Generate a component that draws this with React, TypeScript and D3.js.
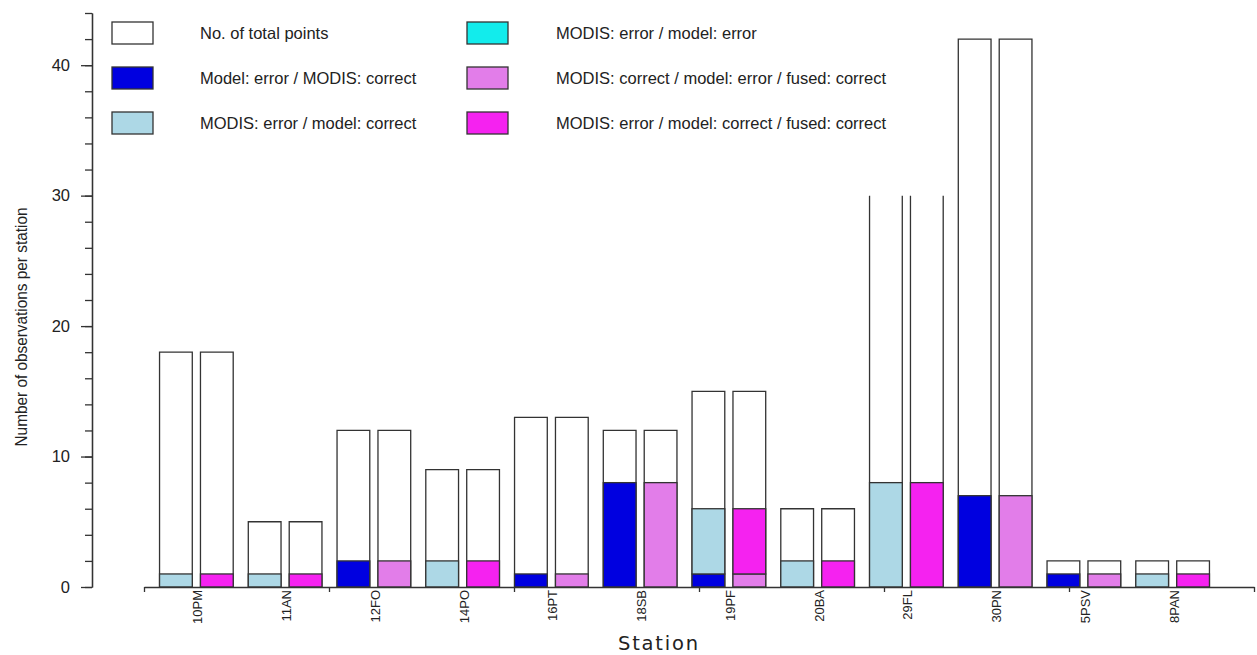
import React, { useRef, useEffect } from 'react';
import * as d3 from 'd3';

const stations = ['10PM', '11AN', '12FO', '14PO', '16PT', '18SB', '19PF', '20BA', '29FL', '30PN', '5PSV', '8PAN'];
const totalPoints = [18, 5, 12, 9, 13, 12, 15, 6, 30, 42, 2, 2];
// left bar of each pair
const modelErrModisCorrect = [0, 0, 2, 0, 1, 8, 1, 0, 0, 7, 1, 0];
const modisErrModelCorrect = [1, 1, 0, 2, 0, 0, 5, 2, 8, 0, 0, 1];
const modisErrModelErr = [0, 0, 0, 0, 0, 0, 0, 0, 0, 0, 0, 0];
// right bar of each pair
const fusedModisCorrect = [0, 0, 2, 0, 1, 8, 1, 0, 0, 7, 1, 0];
const fusedModisErr = [1, 1, 0, 2, 0, 0, 5, 2, 8, 0, 0, 1];
// the 29FL pair is drawn without a top edge in the original
const openTop = ['29FL'];

const yMajorTicks = [0, 10, 20, 30, 40];

const legendItems = [
  { label: 'No. of total points', color: '#ffffff' },
  { label: 'Model: error / MODIS: correct', color: '#0000e0' },
  { label: 'MODIS: error / model: correct', color: '#add8e6' },
  { label: 'MODIS: error / model: error', color: '#12ecec' },
  { label: 'MODIS: correct / model: error / fused: correct', color: '#e27de9' },
  { label: 'MODIS: error / model: correct / fused: correct', color: '#f522f0' },
];

const W = 1257;
const H = 655;
const STROKE = '#333';
const FONT = '"Liberation Sans", Arial, sans-serif';

export default function App() {
  const svgRef = useRef<SVGSVGElement>(null);

  useEffect(() => {
    if (!svgRef.current) return;
    const svg = d3.select(svgRef.current);
    svg.selectAll('*').remove();

    const y = d3.scaleLinear().domain([0, 44]).range([587, 13]);
    const x = d3.scaleBand<string>().domain(stations).range([152, 1217]).paddingInner(0.17).paddingOuter(0.085);
    const sub = d3.scaleBand<string>().domain(['left', 'right']).range([0, x.bandwidth()]).paddingInner(0.2);
    const axisX = d3.scaleLinear().domain([0, 30]).range([144, 1254]);

    // bars
    const g = svg.append('g');
    stations.forEach((s, i) => {
      const x0 = x(s) as number;
      const groups: { side: string; segs: { v: number; c: string }[] }[] = [
        {
          side: 'left',
          segs: [
            { v: modelErrModisCorrect[i], c: legendItems[1].color },
            { v: modisErrModelCorrect[i], c: legendItems[2].color },
            { v: modisErrModelErr[i], c: legendItems[3].color },
          ],
        },
        {
          side: 'right',
          segs: [
            { v: fusedModisCorrect[i], c: legendItems[4].color },
            { v: fusedModisErr[i], c: legendItems[5].color },
          ],
        },
      ];
      groups.forEach((grp) => {
        const bx = x0 + (sub(grp.side) as number);
        const bw = sub.bandwidth();
        g.append('rect')
          .attr('x', bx).attr('y', y(totalPoints[i]))
          .attr('width', bw).attr('height', y(0) - y(totalPoints[i]))
          .attr('fill', '#fff');
        const top = y(totalPoints[i]);
        const d = openTop.includes(s)
          ? `M${bx},${y(0)}V${top}M${bx + bw},${top}V${y(0)}`
          : `M${bx},${y(0)}V${top}H${bx + bw}V${y(0)}`;
        g.append('path').attr('d', d).attr('fill', 'none').attr('stroke', STROKE).attr('stroke-width', 1.3);
        let acc = 0;
        grp.segs.forEach((seg) => {
          if (seg.v <= 0) return;
          g.append('rect')
            .attr('x', bx).attr('y', y(acc + seg.v))
            .attr('width', bw).attr('height', y(acc) - y(acc + seg.v))
            .attr('fill', seg.c).attr('stroke', STROKE).attr('stroke-width', 1.3);
          acc += seg.v;
        });
      });
    });

    // y axis: minor then major ticks
    const yAxisG = svg.append('g').attr('transform', 'translate(92,0)');
    yAxisG.call(d3.axisLeft(y).tickValues(d3.range(0, 45, 2)).tickSize(7).tickSizeOuter(0).tickFormat(() => ''));
    yAxisG.append('g').call(d3.axisLeft(y).tickValues(yMajorTicks).tickSize(11).tickSizeOuter(0).tickPadding(11).tickFormat((d) => String(d)));
    yAxisG.selectAll('path.domain').attr('stroke', STROKE).attr('stroke-width', 1.3);
    yAxisG.selectAll('line').attr('stroke', STROKE).attr('stroke-width', 1.3);
    yAxisG.selectAll('text').attr('fill', '#222').style('font-size', '16.5px').style('font-family', FONT);

    // x axis line with unlabelled ticks
    const xAxisG = svg.append('g').attr('transform', `translate(0,${y(0)})`);
    xAxisG.call(d3.axisBottom(axisX).tickValues(d3.range(0, 31, 5)).tickSize(5).tickSizeOuter(0).tickFormat(() => ''));
    xAxisG.selectAll('path.domain').attr('stroke', STROKE).attr('stroke-width', 1.3);
    xAxisG.selectAll('line').attr('stroke', STROKE).attr('stroke-width', 1.3);

    // station labels
    stations.forEach((s) => {
      const cx = (x(s) as number) + x.bandwidth() / 2;
      svg.append('text')
        .attr('transform', `translate(${cx + 6},590) rotate(-90)`)
        .attr('text-anchor', 'end')
        .style('font-family', FONT).style('font-size', '13px').attr('fill', '#222')
        .text(s);
    });

    // axis titles
    svg.append('text')
      .attr('x', 658).attr('y', 650)
      .attr('text-anchor', 'middle')
      .attr('textLength', 80).attr('lengthAdjust', 'spacing')
      .style('font-family', '"DejaVu Sans", sans-serif').style('font-size', '19.5px').attr('fill', '#222')
      .text('Station');
    svg.append('text')
      .attr('transform', 'translate(27,327) rotate(-90)')
      .attr('text-anchor', 'middle')
      .attr('textLength', 239).attr('lengthAdjust', 'spacingAndGlyphs')
      .style('font-family', FONT).style('font-size', '17px').attr('fill', '#222')
      .text('Number of observations per station');

    // legend
    const legend = svg.append('g');
    legendItems.forEach((item, i) => {
      const col = Math.floor(i / 3);
      const row = i % 3;
      const bx = col === 0 ? 112 : 467;
      const by = 22 + row * 45;
      legend.append('rect')
        .attr('x', bx).attr('y', by).attr('width', 41).attr('height', 22)
        .attr('fill', item.color).attr('stroke', STROKE).attr('stroke-width', 1.3);
      legend.append('text')
        .attr('x', col === 0 ? 200 : 556).attr('y', by + 17)
        .style('font-family', FONT).style('font-size', '16.5px').attr('fill', '#222')
        .text(item.label);
    });
  }, []);

  return (
    <svg
      ref={svgRef}
      width={W}
      height={H}
      style={{ position: 'absolute', left: 0, top: 0, background: '#fff', display: 'block' }}
    />
  );
}
